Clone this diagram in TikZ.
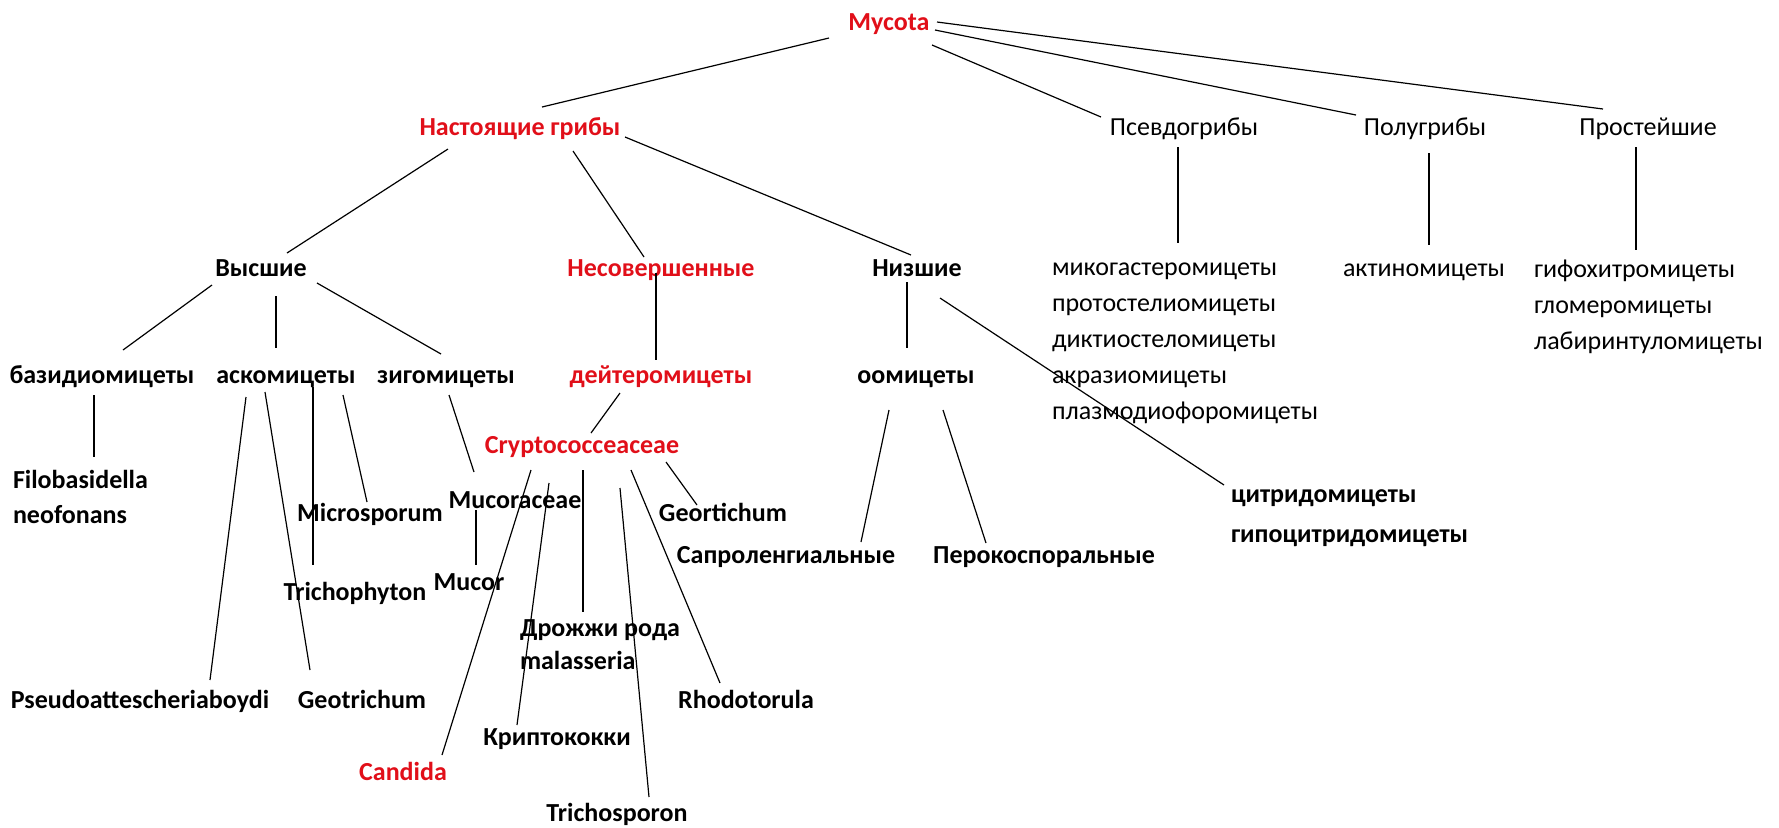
\documentclass[tikz,border=0pt]{standalone}
\usepackage{fontspec}
\setmainfont{Carlito}
\usepackage{tikz}
\definecolor{taxred}{RGB}{225,15,25}

\begin{document}
\begin{tikzpicture}[x=0.5pt, y=-0.5pt, line width=0.6pt,
    taxon/.style={inner sep=0pt, outer sep=0pt, text height=8.5pt, text depth=0pt,
        font=\fontsize{13}{18}\selectfont},
    taxonb/.style={taxon, font=\fontsize{13}{18}\selectfont\bfseries},
    redtaxon/.style={taxonb, text=taxred},
    taxlist/.style={inner sep=0pt, outer sep=0pt, anchor=north west, align=left,
        font=\fontsize{13}{18}\selectfont}]
    \useasboundingbox (0,0) rectangle (1779,827);

    % top levels
    \node[redtaxon] (myc) at (889,22) {Mycota};
    \node[redtaxon] (nast) at (520,127) {Настоящие грибы};
    \node[taxon] (psev) at (1184,127) {Псевдогрибы};
    \node[taxon] (polu) at (1425,127) {Полугрибы};
    \node[taxon] (pros) at (1648,127) {Простейшие};

    \node[taxonb] (vys) at (261,268) {Высшие};
    \node[redtaxon] (nesov) at (661,268) {Несовершенные};
    \node[taxonb] (niz) at (917,268) {Низшие};
    \node[taxlist] (mikog) at (1052,263) {микогастеромицеты\\протостелиомицеты\\диктиостеломицеты\\акразиомицеты\\плазмодиофоромицеты};
    \node[taxon] (aktino) at (1424,268) {актиномицеты};
    \node[taxlist] (gifo) at (1534,260) {гифохитромицеты\\гломеромицеты\\лабиринтуломицеты};

    % classes
    \node[taxonb] (bazid) at (102,375) {базидиомицеты};
    \node[taxonb] (askom) at (286,375) {аскомицеты};
    \node[taxonb] (zigom) at (446,375) {зигомицеты};
    \node[redtaxon] (deit) at (661,375) {дейтеромицеты};
    \node[taxonb] (oomic) at (916,375) {оомицеты};
    \node[redtaxon] (crypt) at (582,445) {Cryptococceaceae};

    % genera
    \node[taxlist, font=\fontsize{13}{17.5}\selectfont\bfseries] (filob) at (13,470) {Filobasidella\\neofonans};
    \node[taxonb] (micro) at (370,513) {Microsporum};
    \node[taxonb] (mucc) at (515,500) {Mucoraceae};
    \node[taxonb] (geort) at (723,513) {Geortichum};
    \node[taxonb] (saprol) at (786,555) {Сапроленгиальные};
    \node[taxonb] (perok) at (1044,555) {Перокоспоральные};
    \node[taxlist, font=\fontsize{13}{20}\selectfont\bfseries] (citr) at (1231,490) {цитридомицеты\\гипоцитридомицеты};
    \node[taxonb] (trphy) at (355,592) {Trichophyton};
    \node[taxonb] (mucor) at (469,582) {Mucor};
    \node[taxlist, font=\fontsize{13}{16.5}\selectfont\bfseries] (droz) at (520,620) {Дрожжи рода\\malasseria};
    \node[taxonb] (pseudo) at (140,700) {Pseudoattescheriaboydi};
    \node[taxonb] (geotr) at (362,700) {Geotrichum};
    \node[taxonb] (rhodo) at (746,700) {Rhodotorula};
    \node[taxonb] (kripto) at (557,737) {Криптококки};
    \node[redtaxon] (candida) at (403,772) {Candida};
    \node[taxonb] (trsp) at (617,813) {Trichosporon};

    \path
    ([shift={(-60,16)}]myc.center) edge ([shift={(22,-20)}]nast.center)
    ([shift={(43,23)}]myc.center) edge ([shift={(-83,-10)}]psev.center)
    ([shift={(46,8)}]myc.center) edge ([shift={(-69,-12)}]polu.center)
    ([shift={(48,0)}]myc.center) edge ([shift={(-45,-18)}]pros.center)
    ([shift={(-72,22)}]nast.center) edge ([shift={(26,-15)}]vys.center)
    ([shift={(53,24)}]nast.center) edge ([shift={(-17,-11)}]nesov.center)
    ([shift={(105,10)}]nast.center) edge ([shift={(-6,-13)}]niz.center)
    ([shift={(-6,20)}]psev.center) edge ([shift={(126,-20)}]mikog.north west)
    ([shift={(4,26)}]polu.center) edge ([shift={(5,-23)}]aktino.center)
    ([shift={(-12,20)}]pros.center) edge ([shift={(102,-10)}]gifo.north west)
    ([shift={(-49,17)}]vys.center) edge ([shift={(21,-25)}]bazid.center)
    ([shift={(15,28)}]vys.center) edge ([shift={(-10,-27)}]askom.center)
    ([shift={(56,15)}]vys.center) edge ([shift={(-5,-21)}]zigom.center)
    ([shift={(-5,5)}]nesov.center) edge ([shift={(-5,-15)}]deit.center)
    ([shift={(-10,14)}]niz.center) edge ([shift={(-9,-27)}]oomic.center)
    ([shift={(23,30)}]niz.center) edge ([shift={(-7,-5)}]citr.north west)
    ([shift={(-41,18)}]deit.center) edge ([shift={(9,-12)}]crypt.center);

    \path
    ([shift={(-8,20)}]bazid.center) edge ([shift={(81,-13)}]filob.north west)
    ([shift={(-40,22)}]askom.center) edge ([shift={(70,-20)}]pseudo.center)
    ([shift={(-21,17)}]askom.center) edge ([shift={(-52,-30)}]geotr.center)
    ([shift={(27,12)}]askom.center) edge ([shift={(-42,-27)}]trphy.center)
    ([shift={(57,20)}]askom.center) edge ([shift={(-3,-11)}]micro.center)
    ([shift={(3,20)}]zigom.center) edge ([shift={(-41,-28)}]mucc.center)
    ([shift={(-39,10)}]mucc.center) edge ([shift={(7,-17)}]mucor.center)
    ([shift={(-51,25)}]crypt.center) edge ([shift={(39,-17)}]candida.center)
    ([shift={(-33,38)}]crypt.center) edge ([shift={(-40,-12)}]kripto.center)
    ([shift={(1,25)}]crypt.center) edge ([shift={(63,-8)}]droz.north west)
    ([shift={(38,43)}]crypt.center) edge ([shift={(32,-16)}]trsp.center)
    ([shift={(49,25)}]crypt.center) edge ([shift={(-26,-17)}]rhodo.center)
    ([shift={(84,17)}]crypt.center) edge ([shift={(-26,-8)}]geort.center)
    ([shift={(-27,35)}]oomic.center) edge ([shift={(75,-13)}]saprol.center)
    ([shift={(27,35)}]oomic.center) edge ([shift={(-58,-12)}]perok.center);

\end{tikzpicture}
\end{document}
